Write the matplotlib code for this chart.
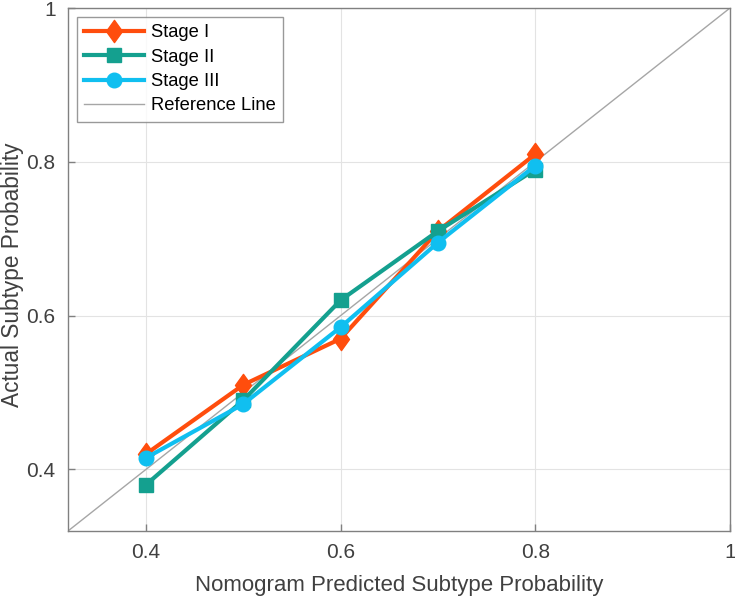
import matplotlib
matplotlib.use("Agg")
import matplotlib.pyplot as plt
from matplotlib.path import Path

x_pred = [0.4, 0.5, 0.6, 0.7, 0.8]
stage1 = [0.42, 0.51, 0.57, 0.71, 0.81]
stage2 = [0.38, 0.49, 0.62, 0.71, 0.79]
stage3 = [0.415, 0.485, 0.585, 0.695, 0.795]
ticks = [0.4, 0.6, 0.8, 1.0]
tick_labels = ["0.4", "0.6", "0.8", "1"]

plt.rcParams['font.family'] = ['Liberation Sans', 'DejaVu Sans']

diamond = Path([(0, 1), (0.72, 0), (0, -1), (-0.72, 0), (0, 1)],
               [Path.MOVETO, Path.LINETO, Path.LINETO, Path.LINETO, Path.CLOSEPOLY])

fig = plt.figure(figsize=(7.35, 5.97), dpi=100)
ax = fig.add_axes([68/735, 1 - 531/597, (730-68)/735, (531-8)/597])

ax.plot(x_pred, stage1, color='#FF4D0D', lw=3, marker=diamond, ms=16, label='Stage I', zorder=3)
ax.plot(x_pred, stage2, color='#14A08F', lw=3, marker='s', ms=9.5, label='Stage II', zorder=4)
ax.plot(x_pred, stage3, color='#10BFF0', lw=3, marker='o', ms=10.5, label='Stage III', zorder=5)
ax.plot([0, 1], [0, 1], color='#A6A6A6', lw=1, label='Reference Line', zorder=2)

ax.set_xlim(0.32, 1.0)
ax.set_ylim(0.32, 1.0)
ax.set_xticks(ticks)
ax.set_xticklabels(tick_labels)
ax.set_yticks(ticks)
ax.set_yticklabels(tick_labels)
ax.grid(True, color='#E3E3E3', lw=0.8)
ax.set_axisbelow(True)
for s in ax.spines.values():
    s.set_color('#808080')
    s.set_linewidth(1.0)
ax.tick_params(direction='in', length=5, width=1.0, colors='#808080', labelcolor='#404040', labelsize=15,
               pad=9)
ax.set_xlabel('Nomogram Predicted Subtype Probability', fontsize=16, color='#404040', labelpad=9)
ax.set_ylabel('Actual Subtype Probability', fontsize=16.3, color='#404040')
ax.yaxis.set_label_coords(-0.067, 0.4895)

leg = ax.legend(loc='upper left', fontsize=13.2, frameon=True, fancybox=False,
                bbox_to_anchor=(0.0136, 0.9828),
                borderaxespad=0, handlelength=3.28, labelspacing=0.4, borderpad=0.4, handletextpad=0.33)
leg.get_frame().set_edgecolor('#808080')
leg.get_frame().set_linewidth(1.0)

fig.savefig('out.png', dpi=100)
